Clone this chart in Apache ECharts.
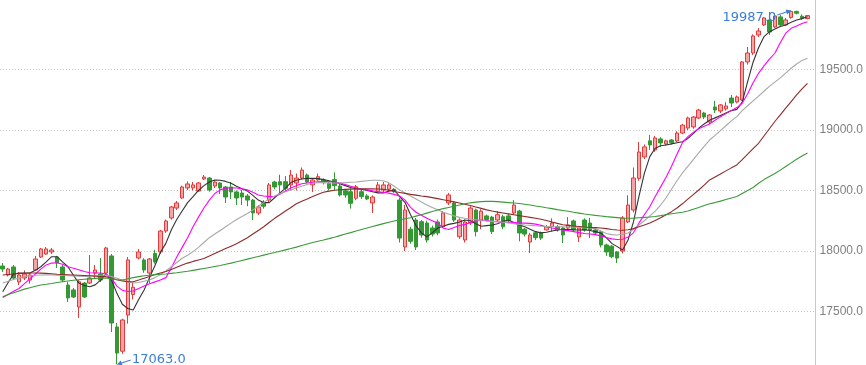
<!DOCTYPE html>
<html><head><meta charset="utf-8">
<script src="https://cdn.jsdelivr.net/npm/echarts@6/dist/echarts.min.js"></script>
<style>html,body{margin:0;padding:0;background:#fff}#c{width:866px;height:365px}</style>
</head><body><div id="c"></div>
<script>
// [open, close, low, high]
const ohlc = [
[17876,17851,17826,17901],[17802,17851,17790,17860],[17868,17777,17760,17884],[17744,17802,17719,17826],[17777,17810,17760,17840],
[17760,17802,17730,17818],[17843,17934,17835,17959],[17950,18017,17942,18025],[17975,18017,17967,18033],[17992,18008,17975,18025],
[17950,17901,17860,17960],[17868,17760,17744,17884],[17719,17612,17579,17744],[17678,17620,17612,17694],[17537,17746,17446,17760],
[17735,17620,17612,17744],[17735,17777,17727,17967],[17818,17843,17777,17884],[17810,17760,17744,17942],[17818,18025,17810,18033],
[17959,17405,17330,17975],[17372,17157,17063,17405],[17172,17430,17150,17440],[17471,17926,17400,17950],[17640,17700,17600,17740],
[17942,17992,17930,18017],[17926,17843,17820,17940],[17818,17934,17735,17942],[17980,17910,17895,18010],[17992,18165,17975,18174],
[18165,18248,18150,18260],[18273,18364,18260,18372],[18355,18397,18340,18413],[18438,18529,18430,18540],[18521,18554,18504,18575],
[18521,18546,18500,18570],[18496,18562,18490,18570],[18595,18611,18587,18628],[18603,18504,18490,18612],[18537,18570,18521,18587],
[18562,18521,18471,18570],[18529,18446,18397,18537],[18529,18488,18430,18570],[18488,18438,18380,18500],[18479,18446,18380,18504],
[18455,18421,18370,18471],[18421,18314,18256,18430],[18314,18364,18298,18380],[18400,18370,18350,18420],[18421,18546,18400,18562],
[18570,18529,18510,18580],[18573,18546,18480,18630],[18573,18518,18490,18620],[18546,18628,18500,18670],[18562,18603,18500,18640],
[18603,18669,18590,18690],[18628,18570,18560,18640],[18546,18587,18488,18600],[18587,18614,18580,18640],[18587,18565,18550,18600],
[18559,18518,18500,18570],[18590,18540,18500,18650],[18537,18463,18450,18560],[18498,18463,18440,18510],[18490,18394,18350,18520],
[18436,18531,18420,18545],[18490,18449,18430,18510],[18455,18430,18420,18470],[18397,18446,18314,18460],[18490,18546,18480,18570],
[18504,18546,18480,18570],[18510,18546,18490,18560],[18510,18490,18480,18520],[18421,18107,18070,18440],[18033,18339,18000,18380],
[18180,18080,18060,18200],[18256,18033,18008,18273],[18242,18132,18110,18256],[18231,18091,18070,18250],[18190,18140,18120,18210],
[18240,18149,18130,18260],[18200,18315,18190,18330],[18397,18463,18380,18480],[18397,18256,18240,18410],[18118,18256,18100,18270],
[18091,18240,18070,18260],[18231,18355,18215,18370],[18339,18160,18120,18350],[18250,18330,18180,18345],[18290,18260,18245,18300],
[18280,18160,18140,18290],[18256,18300,18240,18330],[18283,18200,18180,18300],[18290,18250,18230,18310],[18314,18380,18300,18420],
[18330,18149,18080,18340],[18180,18140,18120,18190],[18074,18132,17983,18150],[18150,18110,18090,18160],[18149,18107,18090,18160],
[18174,18201,18170,18215],[18201,18231,18160,18270],[18201,18174,18160,18215],[18190,18132,18066,18200],[18190,18215,18180,18280],
[18248,18174,18160,18260],[18116,18190,18074,18200],[18256,18174,18160,18270],[18231,18174,18107,18273],[18174,18149,18140,18190],
[18160,18050,18030,18170],[18050,17992,17960,18060],[18040,17953,17940,18050],[17992,17942,17901,18000],[18000,18273,17980,18290],
[18240,18380,18230,18460],[18339,18603,18320,18690],[18600,18818,18580,18900],[18777,18860,18760,18880],[18910,18876,18835,18960],
[18835,18934,18820,18950],[18926,18893,18860,18940],[18884,18910,18870,18920],[18917,18895,18880,18925],[18909,18975,18900,18990],
[18975,19040,18965,19050],[19016,19099,19000,19110],[19025,19107,19010,19115],[19099,19165,19090,19175],[19140,19107,19090,19150],
[19066,19124,19050,19130],[19190,19165,19140,19240],[19157,19207,19140,19215],[19174,19198,19160,19230],[19264,19223,19190,19290],
[19231,19273,19220,19285],[19248,19562,19240,19570],[19562,19636,19540,19686],[19636,19777,19620,19790],[19785,19818,19768,19843],
[19868,19926,19860,19934],[19909,19810,19785,19975],[19851,19942,19843,19967],[19934,19868,19851,19950],[19868,19909,19860,19926],
[19930,19980,19920,19987],[19980,19965,19955,19985],[19940,19925,19910,19955],[19920,19945,19915,19950]
];
const ma5 = [17664,17740,17810,17818,17818,17818,17840,17870,17910,17953,17953,17910,17870,17800,17735,17715,17705,17720,17760,17810,
17760,17650,17560,17525,17512,17600,17678,17780,17880,17990,18063,18174,18260,18330,18400,18449,18500,18540,18570,18587,
18585,18575,18559,18535,18515,18495,18460,18421,18400,18400,18440,18480,18520,18565,18585,18595,18600,18601,18598,18590,
18580,18570,18555,18540,18525,18515,18510,18500,18490,18480,18480,18495,18504,18450,18400,18300,18210,18150,18118,18150,
18190,18205,18220,18228,18240,18256,18250,18225,18205,18210,18215,18225,18245,18256,18235,18215,18201,18180,18160,18150,
18155,18165,18174,18180,18178,18175,18174,18175,18170,18160,18149,18110,18063,18036,18008,18091,18240,18450,18642,18780,
18849,18870,18876,18885,18895,18903,18930,18970,19014,19050,19080,19100,19120,19140,19160,19170,19230,19400,19560,19680,
19771,19810,19835,19855,19868,19890,19909,19920,19936];
const ma10 = [17615,17640,17668,17690,17730,17770,17810,17850,17885,17900,17903,17890,17870,17858,17845,17830,17820,17818,17818,17810,
17775,17710,17675,17665,17670,17690,17710,17730,17745,17760,17780,17860,17950,18030,18110,18200,18280,18355,18420,18475,
18505,18520,18522,18520,18515,18505,18485,18463,18455,18449,18452,18470,18495,18520,18540,18555,18562,18568,18572,18573,
18573,18570,18562,18550,18535,18522,18512,18505,18498,18490,18485,18478,18468,18455,18420,18360,18320,18295,18270,18250,
18230,18190,18178,18195,18210,18220,18235,18250,18256,18252,18245,18242,18240,18238,18235,18232,18230,18228,18222,18212,
18200,18190,18182,18174,18168,18160,18152,18145,18140,18135,18125,18112,18100,18095,18097,18115,18150,18230,18300,18366,
18450,18530,18610,18700,18800,18895,18945,18980,19010,19030,19050,19080,19110,19135,19160,19185,19220,19300,19390,19468,
19530,19585,19634,19720,19800,19840,19860,19880,19895];
const ma20 = [17735,17750,17765,17778,17788,17795,17800,17802,17803,17802,17800,17797,17795,17793,17792,17790,17792,17796,17800,17802,
17790,17775,17760,17745,17735,17740,17750,17760,17780,17805,17835,17870,17905,17940,17965,17995,18030,18070,18110,18140,
18170,18200,18230,18260,18285,18310,18340,18370,18400,18430,18455,18475,18490,18505,18520,18535,18550,18560,18565,18565,
18562,18562,18563,18565,18568,18570,18575,18580,18585,18585,18580,18565,18535,18505,18480,18455,18430,18405,18380,18360,
18340,18320,18305,18290,18278,18270,18264,18258,18252,18248,18245,18242,18238,18232,18226,18220,18215,18212,18208,18205,
18203,18201,18200,18200,18198,18196,18194,18192,18190,18185,18165,18145,18135,18132,18138,18149,18180,18215,18250,18290,
18330,18380,18440,18510,18580,18645,18700,18755,18810,18865,18917,18955,18995,19035,19075,19110,19160,19200,19240,19280,
19320,19360,19395,19430,19470,19510,19545,19575,19592];
const ma30 = [17802,17806,17810,17814,17816,17818,17818,17817,17815,17812,17808,17806,17804,17802,17800,17798,17795,17792,17790,17788,
17775,17762,17752,17746,17746,17760,17775,17790,17805,17818,17830,17848,17866,17884,17900,17914,17926,17938,17958,17980,
18000,18020,18040,18060,18085,18110,18140,18170,18200,18235,18270,18300,18330,18360,18390,18412,18430,18450,18468,18485,
18495,18502,18506,18509,18511,18512,18513,18513,18513,18512,18510,18502,18492,18484,18476,18468,18462,18455,18449,18441,
18433,18424,18415,18406,18397,18387,18376,18364,18352,18340,18330,18321,18314,18307,18300,18292,18285,18278,18270,18262,
18252,18240,18228,18217,18212,18206,18202,18198,18195,18193,18190,18185,18178,18173,18172,18176,18185,18200,18215,18231,
18252,18275,18300,18325,18355,18390,18428,18466,18504,18545,18587,18612,18637,18662,18687,18711,18755,18800,18845,18890,
18950,19010,19070,19125,19180,19235,19290,19340,19386];
const ma60 = [17622,17640,17655,17670,17685,17697,17708,17719,17725,17732,17740,17746,17752,17758,17762,17766,17770,17774,17776,17777,
17770,17762,17760,17770,17780,17788,17795,17800,17805,17808,17810,17815,17820,17826,17832,17840,17848,17856,17864,17872,
17880,17890,17900,17911,17922,17933,17944,17955,17966,17977,17987,17998,18009,18020,18032,18045,18058,18070,18081,18091,
18102,18114,18127,18140,18152,18165,18178,18190,18202,18214,18226,18238,18248,18258,18266,18275,18288,18300,18313,18326,
18339,18350,18360,18370,18380,18390,18398,18404,18408,18410,18410,18408,18404,18400,18396,18392,18386,18380,18372,18365,
18357,18350,18342,18335,18328,18320,18313,18306,18300,18294,18289,18284,18280,18276,18272,18270,18272,18275,18278,18281,
18285,18292,18300,18308,18314,18320,18330,18345,18360,18376,18390,18400,18412,18425,18438,18450,18475,18500,18525,18560,
18590,18615,18640,18668,18698,18728,18758,18785,18810];
const yTicks = [17500, 18000, 18500, 19000, 19500];
const Y_MIN = 17058, Y_MAX = 20074;
const categories = Array.from({length: ohlc.length + 1}, (_, i) => String(i + 1));

const chart = echarts.init(document.getElementById('c'), null, {renderer: 'canvas'});
const blue = '#3b7fd4';
function maLine(name, data, color) {
  return {name, type: 'line', data, symbol: 'none', z: 3, silent: true,
    lineStyle: {color, width: 1.1}, itemStyle: {color}};
}
chart.setOption({
  animation: false,
  backgroundColor: '#ffffff',
  grid: {left: 0, right: 50, top: 0, bottom: 0},
  xAxis: {type: 'category', data: categories, boundaryGap: true, show: false},
  yAxis: {
    type: 'value', position: 'right', min: Y_MIN, max: Y_MAX, scale: true,
    axisLine: {show: true, lineStyle: {color: '#c8c8c8'}},
    axisTick: {show: false, customValues: yTicks},
    axisLabel: {customValues: yTicks, margin: 4, color: '#808080', fontSize: 12,
      fontFamily: 'Liberation Sans, Arial, sans-serif', formatter: v => v.toFixed(1)},
    splitLine: {show: true, lineStyle: {color: '#c4c4c4', type: [1, 2], width: 1}}
  },
  series: [
    {
      type: 'candlestick', data: ohlc, barWidth: 4, z: 2,
      itemStyle: {color: '#f5a5a5', color0: '#339933', borderColor: '#e23b3b', borderColor0: '#339933', borderWidth: 1},
      markPoint: {
        silent: true,
        symbolKeepAspect: false,
        itemStyle: {color: blue},
        label: {color: blue, fontSize: 13, fontFamily: 'DejaVu Sans, Verdana, sans-serif',
          formatter: p => Number(p.value).toFixed(1)},
        data: [
          {type: 'max', valueDim: 'highest',
            symbol: 'path://M-0.15,5.52 L9.09,2.55 L8.47,0.65 L14,1.5 L10,5.41 L9.39,3.51 L0.15,6.48 Z',
            symbolSize: [14, 6], symbolOffset: [-7, 2],
            label: {position: 'left', distance: 1, offset: [0, 5]}},
          {type: 'min', valueDim: 'lowest',
            symbol: 'path://M14,1.61 L4.76,4.58 L5.38,6.48 L-0.15,5.63 L3.85,1.72 L4.46,3.62 L13.7,0.65 Z',
            symbolSize: [14, 6], symbolOffset: [7, -2],
            label: {position: 'right', distance: 1, offset: [0, -3]}}
        ]
      }
    },
    maLine('MA5', ma5, '#333333'),
    maLine('MA10', ma10, '#ff00ff'),
    maLine('MA20', ma20, '#a8a8a8'),
    maLine('MA30', ma30, '#8e2b2b'),
    maLine('MA60', ma60, '#3a9a3a')
  ]
});
</script></body></html>
